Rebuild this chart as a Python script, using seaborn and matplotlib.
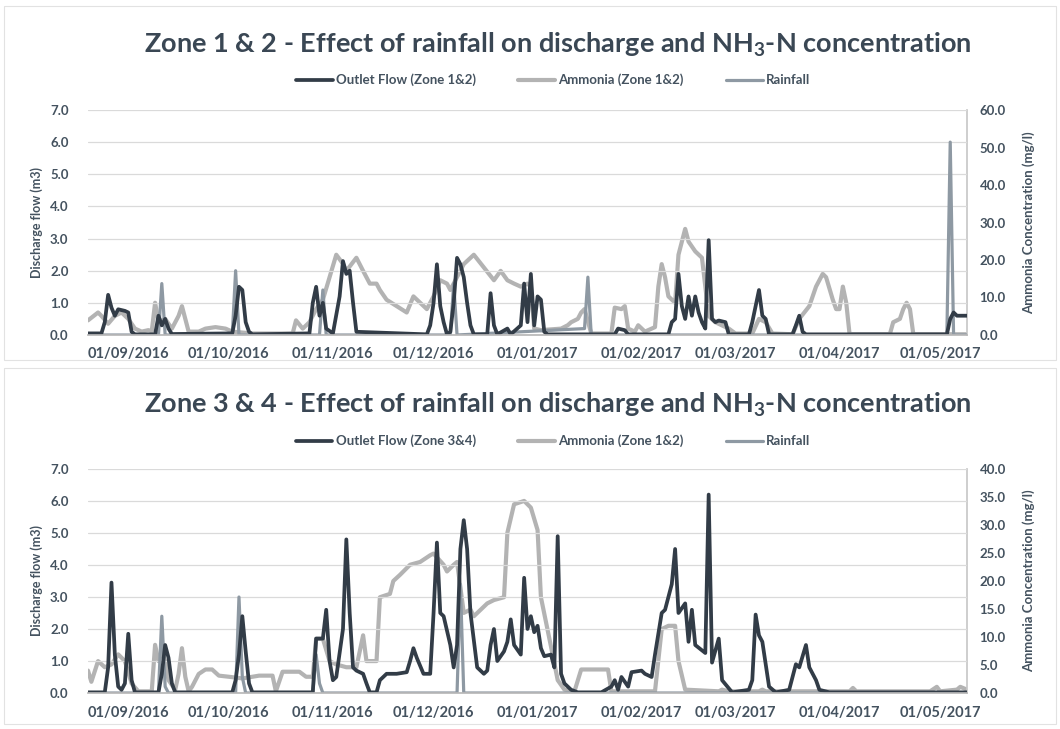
import matplotlib
matplotlib.use("Agg")
import matplotlib.pyplot as plt
import matplotlib.dates as mdates
from matplotlib.lines import Line2D
import pandas as pd
import seaborn as sns

# ---------------- data ----------------
flow12 = [("2016-08-20",0.05),("2016-08-24",0.05),("2016-08-25",0.4),("2016-08-26",1.25),("2016-08-27",0.85),("2016-08-28",0.6),("2016-08-29",0.8),("2016-08-31",0.75),("2016-09-01",0.7),("2016-09-02",0.1),("2016-09-03",0.02),("2016-09-09",0.02),("2016-09-10",0.6),("2016-09-11",0.3),("2016-09-12",0.5),("2016-09-13",0.2),("2016-09-14",0.03),("2016-10-02",0.05),("2016-10-03",0.6),("2016-10-04",1.5),("2016-10-05",1.4),("2016-10-06",0.4),("2016-10-07",0.1),("2016-10-08",0.02),("2016-10-25",0.05),("2016-10-26",1.0),("2016-10-27",1.5),("2016-10-28",0.6),("2016-10-29",1.0),("2016-10-30",0.2),("2016-11-01",0.05),("2016-11-03",1.2),("2016-11-04",2.3),("2016-11-05",1.9),("2016-11-06",2.0),("2016-11-07",1.0),("2016-11-08",0.1),("2016-11-29",0.02),("2016-11-30",0.3),("2016-12-01",1.0),("2016-12-02",2.2),("2016-12-03",0.9),("2016-12-04",0.4),("2016-12-05",0.02),("2016-12-06",0.1),("2016-12-07",1.0),("2016-12-08",2.4),("2016-12-09",2.2),("2016-12-10",1.8),("2016-12-11",1.0),("2016-12-12",0.3),("2016-12-13",0.02),("2016-12-17",0.02),("2016-12-18",1.3),("2016-12-19",0.3),("2016-12-20",0.02),("2016-12-23",0.2),("2016-12-24",0.02),("2016-12-27",0.3),("2016-12-28",1.6),("2016-12-29",0.4),("2016-12-30",1.9),("2016-12-31",0.3),("2017-01-01",1.2),("2017-01-02",1.1),("2017-01-03",0.1),("2017-01-04",0.02),("2017-01-24",0.02),("2017-01-25",0.2),("2017-01-27",0.15),("2017-01-28",0.02),("2017-02-09",0.02),("2017-02-10",0.4),("2017-02-11",0.5),("2017-02-12",1.9),("2017-02-13",0.9),("2017-02-14",0.5),("2017-02-15",1.2),("2017-02-16",0.6),("2017-02-17",1.2),("2017-02-18",0.7),("2017-02-19",0.4),("2017-02-20",0.2),("2017-02-21",2.95),("2017-02-22",0.5),("2017-02-23",0.4),("2017-02-24",0.45),("2017-02-26",0.4),("2017-02-27",0.02),("2017-03-05",0.02),("2017-03-06",0.4),("2017-03-08",1.4),("2017-03-09",0.6),("2017-03-10",0.5),("2017-03-11",0.02),("2017-03-18",0.02),("2017-03-19",0.3),("2017-03-20",0.6),("2017-03-21",0.1),("2017-03-22",0.02),("2017-05-03",0.02),("2017-05-04",0.5),("2017-05-05",0.7),("2017-05-06",0.6),("2017-05-09",0.6)]

ammonia12 = [("2016-08-20",3.9),("2016-08-23",6.0),("2016-08-24",5.1),("2016-08-26",3.0),("2016-08-28",5.1),("2016-08-30",6.0),("2016-09-01",4.3),("2016-09-03",1.7),("2016-09-05",0.9),("2016-09-07",1.3),("2016-09-08",1.0),("2016-09-09",8.6),("2016-09-10",3.4),("2016-09-12",4.3),("2016-09-14",1.7),("2016-09-16",5.1),("2016-09-17",7.7),("2016-09-18",4.3),("2016-09-19",0.9),("2016-09-22",0.9),("2016-09-24",1.7),("2016-09-27",2.1),("2016-09-30",1.7),("2016-10-02",0.9),("2016-10-08",0.4),("2016-10-20",0.4),("2016-10-21",3.9),("2016-10-23",1.7),("2016-10-25",3.4),("2016-10-27",6.9),("2016-10-29",9.4),("2016-10-31",15.4),("2016-11-02",21.4),("2016-11-04",19.0),("2016-11-05",17.1),("2016-11-08",20.6),("2016-11-10",17.1),("2016-11-12",13.7),("2016-11-14",13.7),("2016-11-15",12.0),("2016-11-17",9.4),("2016-11-20",7.7),("2016-11-23",6.0),("2016-11-25",10.3),("2016-11-27",8.6),("2016-11-29",6.9),("2016-12-01",10.3),("2016-12-03",14.6),("2016-12-05",13.7),("2016-12-06",12.0),("2016-12-10",18.9),("2016-12-13",21.4),("2016-12-16",18.0),("2016-12-19",14.6),("2016-12-21",17.1),("2016-12-23",14.6),("2016-12-25",13.7),("2016-12-27",12.9),("2016-12-29",13.7),("2016-12-30",12.9),("2016-12-31",1.7),("2017-01-02",1.3),("2017-01-08",1.7),("2017-01-10",2.6),("2017-01-11",3.4),("2017-01-13",4.3),("2017-01-14",6.0),("2017-01-15",6.9),("2017-01-17",0.4),("2017-01-23",0.4),("2017-01-24",7.3),("2017-01-26",6.9),("2017-01-27",7.7),("2017-01-28",1.7),("2017-01-30",0.9),("2017-01-31",2.6),("2017-02-02",0.9),("2017-02-04",1.7),("2017-02-05",2.1),("2017-02-06",12.9),("2017-02-07",18.9),("2017-02-08",15.4),("2017-02-09",10.3),("2017-02-11",8.6),("2017-02-12",21.4),("2017-02-14",28.3),("2017-02-15",24.9),("2017-02-17",22.3),("2017-02-19",20.6),("2017-02-20",12.9),("2017-02-21",5.1),("2017-02-23",3.4),("2017-02-27",1.7),("2017-03-01",0.4),("2017-03-06",0.4),("2017-03-08",4.3),("2017-03-10",3.4),("2017-03-12",0.4),("2017-03-18",0.2),("2017-03-20",4.3),("2017-03-23",7.7),("2017-03-25",12.9),("2017-03-27",16.3),("2017-03-28",15.4),("2017-03-30",9.4),("2017-03-31",6.9),("2017-04-01",6.9),("2017-04-02",12.9),("2017-04-03",8.6),("2017-04-04",0.2),("2017-04-16",0.2),("2017-04-17",3.4),("2017-04-19",4.3),("2017-04-20",6.9),("2017-04-21",8.6),("2017-04-22",6.9),("2017-04-23",0.2),("2017-05-09",0.2)]

rain12 = [("2016-08-20",0.0),("2016-09-10",0.0),("2016-09-11",1.6),("2016-09-12",0.0),("2016-10-02",0.0),("2016-10-03",2.0),("2016-10-04",0.0),("2016-10-28",0.0),("2016-10-29",1.4),("2016-10-30",0.0),("2016-12-06",0.0),("2016-12-07",1.6),("2016-12-08",0.0),("2017-01-15",0.2),("2017-01-16",1.8),("2017-01-17",0.0),("2017-05-03",0.0),("2017-05-04",6.0),("2017-05-05",0.0),("2017-05-09",0.0)]

flow34 = [("2016-08-20",0.02),("2016-08-25",0.02),("2016-08-26",0.8),("2016-08-27",3.45),("2016-08-28",1.2),("2016-08-29",0.2),("2016-08-30",0.1),("2016-08-31",0.3),("2016-09-01",1.85),("2016-09-02",0.4),("2016-09-03",0.02),("2016-09-10",0.02),("2016-09-11",0.6),("2016-09-12",1.5),("2016-09-13",1.1),("2016-09-14",0.3),("2016-09-15",0.02),("2016-10-02",0.02),("2016-10-03",0.4),("2016-10-04",1.2),("2016-10-05",2.4),("2016-10-06",1.3),("2016-10-07",0.3),("2016-10-08",0.02),("2016-10-26",0.02),("2016-10-27",1.7),("2016-10-29",1.7),("2016-10-30",2.6),("2016-10-31",1.0),("2016-11-01",0.4),("2016-11-02",0.5),("2016-11-04",2.0),("2016-11-05",4.8),("2016-11-06",2.5),("2016-11-07",0.8),("2016-11-08",0.7),("2016-11-10",0.6),("2016-11-11",0.3),("2016-11-12",0.02),("2016-11-14",0.02),("2016-11-15",0.4),("2016-11-17",0.6),("2016-11-20",0.6),("2016-11-23",0.65),("2016-11-24",1.0),("2016-11-25",1.4),("2016-11-26",1.1),("2016-11-28",0.6),("2016-11-30",0.6),("2016-12-01",2.5),("2016-12-02",4.7),("2016-12-03",2.5),("2016-12-04",2.4),("2016-12-06",1.5),("2016-12-07",0.8),("2016-12-08",1.5),("2016-12-09",4.5),("2016-12-10",5.4),("2016-12-11",4.5),("2016-12-12",2.5),("2016-12-14",0.8),("2016-12-16",0.6),("2016-12-17",0.7),("2016-12-18",1.5),("2016-12-19",2.0),("2016-12-20",1.0),("2016-12-22",1.3),("2016-12-23",1.6),("2016-12-24",2.3),("2016-12-25",1.5),("2016-12-27",1.2),("2016-12-28",3.6),("2016-12-29",2.0),("2016-12-30",2.4),("2016-12-31",1.9),("2017-01-01",2.1),("2017-01-02",1.4),("2017-01-03",1.15),("2017-01-05",1.2),("2017-01-06",0.8),("2017-01-07",4.9),("2017-01-08",0.6),("2017-01-09",0.3),("2017-01-11",0.1),("2017-01-13",0.02),("2017-01-20",0.02),("2017-01-23",0.2),("2017-01-24",0.4),("2017-01-25",0.1),("2017-01-26",0.5),("2017-01-28",0.2),("2017-01-29",0.65),("2017-02-01",0.7),("2017-02-02",0.6),("2017-02-04",0.5),("2017-02-05",1.2),("2017-02-07",2.5),("2017-02-08",2.6),("2017-02-10",3.4),("2017-02-11",4.5),("2017-02-12",2.5),("2017-02-14",2.8),("2017-02-15",1.6),("2017-02-16",2.6),("2017-02-17",1.5),("2017-02-20",1.25),("2017-02-21",6.2),("2017-02-22",0.95),("2017-02-24",1.7),("2017-02-25",0.4),("2017-02-28",0.02),("2017-03-05",0.1),("2017-03-06",0.4),("2017-03-07",2.45),("2017-03-08",1.8),("2017-03-09",1.6),("2017-03-10",0.9),("2017-03-11",0.2),("2017-03-13",0.02),("2017-03-17",0.1),("2017-03-19",0.9),("2017-03-20",0.8),("2017-03-22",1.5),("2017-03-23",0.8),("2017-03-25",0.4),("2017-03-26",0.1),("2017-03-29",0.02),("2017-05-09",0.02)]

ammonia34 = [("2016-08-20",4.0),("2016-08-21",2.0),("2016-08-23",5.7),("2016-08-25",4.6),("2016-08-27",5.1),("2016-08-29",6.9),("2016-08-31",5.7),("2016-09-02",1.7),("2016-09-04",0.3),("2016-09-08",0.3),("2016-09-09",8.6),("2016-09-10",5.7),("2016-09-11",7.4),("2016-09-12",5.7),("2016-09-13",2.3),("2016-09-15",0.6),("2016-09-16",3.4),("2016-09-17",8.0),("2016-09-18",2.9),("2016-09-19",0.3),("2016-09-20",1.1),("2016-09-22",3.4),("2016-09-24",4.2),("2016-09-26",4.2),("2016-09-28",3.1),("2016-10-01",2.9),("2016-10-05",2.6),("2016-10-10",3.1),("2016-10-14",3.1),("2016-10-15",0.3),("2016-10-17",3.8),("2016-10-22",3.8),("2016-10-24",2.9),("2016-10-26",2.9),("2016-10-27",9.7),("2016-10-29",9.7),("2016-10-31",5.7),("2016-11-02",5.1),("2016-11-05",4.6),("2016-11-08",4.6),("2016-11-10",10.3),("2016-11-11",5.7),("2016-11-14",5.7),("2016-11-15",17.1),("2016-11-18",17.7),("2016-11-19",20.0),("2016-11-21",21.1),("2016-11-24",22.9),("2016-11-27",23.4),("2016-11-30",24.6),("2016-12-01",24.9),("2016-12-04",22.9),("2016-12-05",21.7),("2016-12-07",22.9),("2016-12-08",23.4),("2016-12-10",14.3),("2016-12-12",14.9),("2016-12-13",13.7),("2016-12-17",16.0),("2016-12-19",16.6),("2016-12-22",17.1),("2016-12-23",28.6),("2016-12-25",33.7),("2016-12-28",34.3),("2016-12-30",33.1),("2017-01-01",29.1),("2017-01-02",17.1),("2017-01-05",8.3),("2017-01-07",2.3),("2017-01-09",0.6),("2017-01-12",0.3),("2017-01-14",4.2),("2017-01-22",4.2),("2017-01-23",0.3),("2017-02-05",0.3),("2017-02-07",11.4),("2017-02-09",12.0),("2017-02-11",12.0),("2017-02-12",5.7),("2017-02-14",0.6),("2017-02-24",0.3),("2017-02-25",0.6),("2017-02-27",0.3),("2017-03-08",0.3),("2017-03-09",0.6),("2017-03-10",0.3),("2017-04-04",0.3),("2017-04-05",0.9),("2017-04-06",0.3),("2017-04-28",0.3),("2017-04-30",1.1),("2017-05-01",0.3),("2017-05-06",0.6),("2017-05-07",1.1),("2017-05-09",0.6)]

rain34 = [("2016-08-20",0.0),("2016-09-10",0.0),("2016-09-11",2.4),("2016-09-12",0.2),("2016-09-13",0.0),("2016-10-03",0.0),("2016-10-04",3.0),("2016-10-05",0.5),("2016-10-06",0.0),("2016-10-26",0.0),("2016-10-27",1.2),("2016-10-28",0.3),("2016-10-29",0.0),("2016-12-08",0.0),("2016-12-09",3.4),("2016-12-10",0.0),("2017-05-09",0.0)]

titles = ["Zone 1 & 2 - Effect of rainfall on discharge and NH$_3$-N concentration",
          "Zone 3 & 4 - Effect of rainfall on discharge and NH$_3$-N concentration"]
legend_labels = [["Outlet Flow (Zone 1&2)", "Ammonia (Zone 1&2)", "Rainfall"],
                 ["Outlet Flow (Zone 3&4)", "Ammonia (Zone 1&2)", "Rainfall"]]
left_ticks = [0, 1, 2, 3, 4, 5, 6, 7]
right_ticks = [[0, 10, 20, 30, 40, 50, 60], [0, 5, 10, 15, 20, 25, 30, 35, 40]]
month_ticks = ["2016-09-01", "2016-10-01", "2016-11-01", "2016-12-01", "2017-01-01",
               "2017-02-01", "2017-03-01", "2017-04-01", "2017-05-01"]
x_start, x_end = "2016-08-20", "2017-05-09"
left_label = "Discharge flow (m3)"
right_label = "Ammonia Concentration (mg/l)"

# ---------------- style ----------------
sns.set_theme(style="white")
plt.rcParams["font.family"] = ["Lato", "DejaVu Sans"]
plt.rcParams["mathtext.fontset"] = "custom"
plt.rcParams["mathtext.rm"] = "Lato:bold"
plt.rcParams["mathtext.it"] = "Lato:bold"
plt.rcParams["mathtext.bf"] = "Lato:bold"

C_FLOW = "#323c47"
C_AMM = "#b3b3b3"
C_RAIN = "#8e99a3"
C_TEXT = "#44525f"
C_GRID = "#dadada"
LW_FLOW, LW_AMM, LW_RAIN = 2.7, 3.0, 2.3

W, H = 1060, 729
fig = plt.figure(figsize=(W / 100, H / 100), dpi=100)

def fx(px):
    return px / W

def fy(py):
    return 1 - py / H

def to_df(pairs):
    df = pd.DataFrame(pairs, columns=["date", "value"])
    df["date"] = pd.to_datetime(df["date"])
    return df

panels = [
    dict(flow=flow12, amm=ammonia12, rain=rain12, box=(88, 967, 110, 335),
         title_y=45, leg_y=80, rmax=60),
    dict(flow=flow34, amm=ammonia34, rain=rain34, box=(88, 967, 469, 693),
         title_y=405, leg_y=441, rmax=40),
]

for i, p in enumerate(panels):
    l, r, t, b = p["box"]
    ax = fig.add_axes([fx(l), fy(b), fx(r) - fx(l), fy(t) - fy(b)])
    ax2 = ax.twinx()
    ax.set_zorder(ax2.get_zorder() + 1)
    ax.patch.set_visible(False)

    sns.lineplot(data=to_df(p["amm"]), x="date", y="value", ax=ax2,
                 color=C_AMM, linewidth=LW_AMM, legend=False)
    sns.lineplot(data=to_df(p["rain"]), x="date", y="value", ax=ax,
                 color=C_RAIN, linewidth=LW_RAIN, legend=False)
    sns.lineplot(data=to_df(p["flow"]), x="date", y="value", ax=ax,
                 color=C_FLOW, linewidth=LW_FLOW, legend=False)

    ax.set_xlim(pd.Timestamp(x_start), pd.Timestamp(x_end))
    ax.set_ylim(0, 7)
    ax2.set_ylim(0, p["rmax"])
    ax.set_yticks(left_ticks)
    ax.set_yticklabels([f"{v:.1f}" for v in left_ticks])
    ax2.set_yticks(right_ticks[i])
    ax2.set_yticklabels([f"{v:.1f}" for v in right_ticks[i]])
    ax.set_xticks(pd.to_datetime(month_ticks))
    ax.xaxis.set_major_formatter(mdates.DateFormatter("%d/%m/%Y"))

    ax.grid(axis="y", color=C_GRID, linewidth=0.9)
    ax.grid(axis="x", visible=False)
    ax2.grid(False)
    for a in (ax, ax2):
        for s in a.spines.values():
            s.set_visible(False)
    ax.spines["bottom"].set_visible(True)
    ax.spines["bottom"].set_color("#b8b8b8")
    ax2.spines["right"].set_visible(True)
    ax2.spines["right"].set_color("#c8c8c8")

    ax.tick_params(axis="y", length=0, labelsize=9.5, labelcolor=C_TEXT, pad=14)
    ax.tick_params(axis="x", length=0, labelsize=10.5, labelcolor=C_TEXT, pad=9)
    ax2.tick_params(axis="y", length=0, labelsize=9.5, labelcolor=C_TEXT, pad=9)
    for lab in ax.get_xticklabels() + ax.get_yticklabels() + ax2.get_yticklabels():
        lab.set_fontweight("bold")

    ax.set_xlabel("")
    ax.set_ylabel(left_label, fontsize=9, fontweight="bold", color=C_TEXT, labelpad=5)
    ax2.set_ylabel(right_label, fontsize=9.5, fontweight="bold", color=C_TEXT,
                   rotation=90, labelpad=12)

    fig.text(fx(558), fy(p["title_y"]), titles[i], ha="center", va="center",
             fontsize=19.5, fontweight="bold", color="#3a4754")

    handles = [Line2D([], [], color=C_FLOW, linewidth=LW_FLOW),
               Line2D([], [], color=C_AMM, linewidth=LW_AMM),
               Line2D([], [], color=C_RAIN, linewidth=LW_RAIN)]
    leg = ax.legend(handles, legend_labels[i], loc="center",
                    bbox_to_anchor=(fx(553), fy(p["leg_y"])),
                    bbox_transform=fig.transFigure, ncol=3, frameon=False,
                    fontsize=9.5, handlelength=2.8, handletextpad=0.25,
                    columnspacing=3.2)
    for txt in leg.get_texts():
        txt.set_color(C_TEXT)
        txt.set_fontweight("bold")

# faint chart borders like the scanned Excel charts
for (x0, y0, x1, y1) in [(4, 6, 1056, 360), (4, 368, 1056, 724)]:
    fig.add_artist(plt.Rectangle((fx(x0), fy(y1)), fx(x1) - fx(x0), fy(y0) - fy(y1),
                                 transform=fig.transFigure, fill=False,
                                 edgecolor="#e2e2e2", linewidth=0.8))

fig.savefig("out.png", dpi=100)
